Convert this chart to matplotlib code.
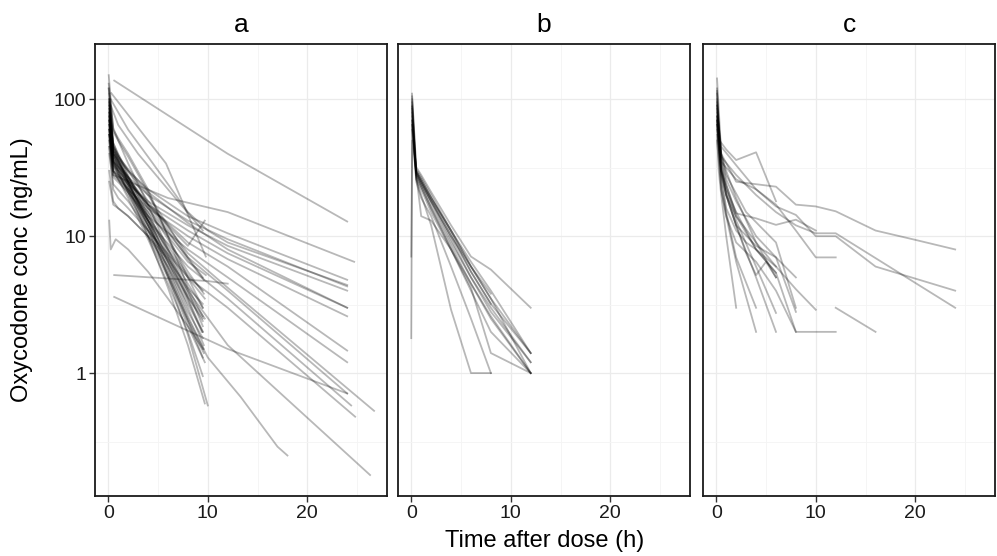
import matplotlib.pyplot as plt
from matplotlib.ticker import FixedLocator

plt.rcParams['font.family'] = ['Liberation Sans', 'DejaVu Sans']

panel_names = ['a', 'b', 'c']

# panel a: one list of times and concentrations per subject
a_time = [
    [0.1, 0.5, 1, 2, 4, 6, 8, 9.5], [0.1, 0.5, 1, 2, 4, 6, 8, 9.6],
    [0.05, 0.5, 1, 2, 4, 6, 8, 9.5], [0.1, 0.5, 1, 2, 4, 6, 8, 9.5],
    [0.1, 0.5, 1, 2, 4, 6, 8, 9.7], [0.05, 0.5, 1, 2, 4, 6, 8, 9.5],
    [0.1, 0.5, 1, 2, 4, 6, 8, 9.4], [0.1, 0.5, 1, 2, 4, 6, 8, 9.5],
    [0.1, 0.5, 1, 2, 4, 6, 8, 9.6], [0.1, 0.5, 1, 2, 4, 6, 8, 9.5],
    [0.1, 0.5, 1, 2, 4, 6, 8, 9.7], [0.1, 0.5, 1, 2, 4, 6, 8, 9.5],
    [0.1, 0.5, 1, 2, 4, 6, 8, 9.7], [0.1, 0.5, 1, 2, 4, 6, 8, 10],
    [0.1, 0.5, 1, 2, 4, 6, 8, 9.5], [0.1, 0.5, 1, 2, 4, 6, 8, 9.8],
    [0.05, 0.5, 1, 2, 4, 6, 8, 9.5], [0.1, 0.5, 1, 2, 4, 6, 8, 9.5],
    [0.1, 0.5, 1, 2, 4, 6, 8, 9.6], [0.1, 0.5, 1, 2, 4, 6, 8, 9.5],
    [0.1, 0.5, 1, 2, 4, 6, 8, 9.5], [0.05, 0.5, 1, 2, 4, 6, 8, 9.6],
    [0.1, 0.5, 1, 2, 4, 6, 8, 9.5], [0.1, 0.5, 1, 2, 4, 6, 8, 9.6],
    [0.1, 0.5, 1, 2, 4, 6, 8, 9.5], [0.1, 0.5, 1, 2, 4, 6, 8, 9.7],
    [0.1, 0.5, 1, 2, 4, 6, 8, 9.7],
    [0.6, 12, 24], [0.1, 0.5, 6, 12, 24.7],
    [0.1, 0.5, 2, 4, 8, 12, 24], [0.1, 0.5, 2, 4, 8, 12, 24],
    [0.1, 0.5, 2, 4, 8, 12, 24], [0.1, 0.5, 2, 4, 8, 12, 24],
    [0.1, 0.5, 2, 4, 8, 12, 24], [0.1, 0.5, 2, 4, 8, 12, 24],
    [0.1, 0.5, 2, 4, 8, 12, 24], [0.1, 0.5, 2, 4, 8, 12, 24],
    [0.1, 0.5, 2, 4, 8, 12, 24], [0.1, 0.5, 2, 4, 8, 12, 24.4],
    [0.1, 0.5, 2, 4, 8, 12, 24.8], [0.1, 0.5, 2, 4, 8, 12, 26.7],
    [0.1, 0.5, 2, 4, 8, 12, 26.3], [0.1, 0.5, 2, 4, 8, 10, 13.3, 17, 18],
    [0.6, 10, 12], [0.6, 7, 12, 24], [0.3, 5.8, 9.8],
    [0.1, 0.25, 0.75, 2, 4, 6, 8, 9.5],
    [0.25, 2, 4, 6, 8, 10, 12, 24], [0.25, 1, 3, 6, 9.5],
]
a_conc = [
    [95, 45, 38, 30, 20, 12, 7.0, 5.0], [70, 40, 34, 27, 16, 9.5, 5.5, 3.8],
    [120, 58, 50, 38, 21, 10, 5.0, 3.0], [60, 35, 30, 23, 14, 8.0, 4.5, 3.0],
    [80, 42, 36, 26, 15, 7.5, 3.8, 2.5], [150, 60, 52, 40, 22, 10, 4.2, 2.6],
    [55, 32, 28, 22, 12, 6.5, 3.4, 2.0], [75, 38, 33, 25, 13, 6.0, 2.8, 1.8],
    [110, 48, 40, 28, 14, 6.5, 3.0, 1.6], [65, 36, 30, 21, 10, 5.0, 2.4, 1.3],
    [90, 44, 36, 24, 11, 5.2, 2.2, 1.2], [50, 30, 26, 19, 9.5, 4.5, 2.0, 0.95],
    [85, 40, 33, 23, 10, 4.2, 1.6, 0.6], [100, 46, 38, 25, 12, 5.0, 1.9, 0.58],
    [70, 38, 31, 24, 14, 8.5, 5.2, 4.0], [60, 34, 29, 22, 15, 10, 6.5, 5.2],
    [130, 62, 50, 34, 17, 8.0, 4.0, 2.2], [45, 22, 19, 16, 11, 7.0, 3.6, 2.4],
    [80, 40, 34, 27, 17, 11, 6.8, 4.8], [100, 42, 35, 25, 13, 7.0, 3.5, 2.0],
    [30, 18, 16, 14, 10, 6.0, 3.2, 2.0], [120, 48, 39, 27, 13, 5.5, 2.4, 1.4],
    [25, 17, 16, 14, 10, 6.8, 4.2, 3.2], [95, 44, 36, 25, 12, 5.8, 2.6, 1.5],
    [65, 35, 29, 21, 12, 6.5, 3.6, 2.5], [55, 33, 28, 21, 13, 8.0, 5.0, 3.5],
    [75, 38, 32, 25, 17, 12, 8.5, 13],
    [137, 40, 12.8], [60, 28, 19, 15, 6.5],
    [80, 40, 30, 22, 14, 10.5, 4.8], [70, 35, 27, 20, 13, 9.5, 4.3],
    [55, 30, 24, 18, 12, 8.5, 4.0], [90, 42, 31, 21, 12.5, 8, 3.0],
    [65, 33, 25, 17, 11, 7.5, 3.0], [50, 28, 22, 16, 10, 6.8, 2.6],
    [75, 36, 26, 17, 9, 6, 1.46], [45, 27, 21, 14, 8, 5, 1.2],
    [85, 40, 27, 16, 7, 4, 0.71], [60, 30, 22, 13, 6, 3.5, 0.58],
    [40, 24, 18, 11, 5, 3, 0.48], [100, 45, 30, 18, 7.5, 4.2, 0.53],
    [70, 35, 24, 13, 4, 1.6, 0.18], [55, 30, 20, 11, 2.5, 1.3, 0.67, 0.29, 0.25],
    [5.2, 4.7, 4.5], [3.6, 2.2, 1.5, 0.71], [111, 34, 7.1],
    [13, 8, 9.5, 8, 5.5, 3.5, 2.2, 1.5],
    [100, 60, 38, 24, 15, 11, 9, 4.4], [90, 65, 40, 22, 11],
]

# panel b
b_time = [
    [0.08, 0.5, 1, 2, 4, 6, 8, 12], [0.08, 0.5, 1, 2, 4, 6, 8],
    [0.08, 0.5, 1, 2, 4, 6, 8, 12], [0.08, 0.5, 1, 2, 4, 6, 8, 12],
    [0.08, 0.5, 1, 2, 4, 6, 8, 12], [0.08, 0.5, 1, 2, 4, 6, 8, 12],
    [0.08, 0.5, 1, 2, 4, 6, 8, 12], [0.08, 0.5, 1, 2, 4, 6, 8],
    [0.08, 0.5, 1, 2, 4, 6, 8], [0, 0.1, 0.5, 1, 2, 4, 6, 8, 12],
    [0, 0.1, 0.5, 1, 2, 4, 6, 8, 12], [0.08, 0.5, 1, 2, 4, 6, 8, 12],
    [0.08, 0.5, 1, 2, 4, 6, 8], [0.08, 0.5, 1, 2, 4, 6, 8, 12],
    [0.08, 0.5, 1, 2, 4, 6, 8, 12],
]
b_conc = [
    [110, 32, 28, 21, 12, 7.1, 5.7, 3.0], [90, 30, 26, 19, 11, 6, 3.8],
    [85, 28, 24, 18, 10, 5.5, 3.2, 1.4], [75, 29, 25, 18, 9.5, 5, 3, 1.2],
    [100, 27, 23, 16, 8.5, 4.5, 2.6, 1.0], [60, 26, 22, 15, 8, 4.2, 1.4, 1.0],
    [70, 28, 23, 16, 8, 4, 2, 1.0], [95, 26, 20, 12, 2.9, 1.0, 1.0],
    [80, 25, 19, 14, 6, 2.5, 1.0], [1.8, 65, 30, 25, 18, 10, 6, 3.5, 1.4],
    [7.1, 50, 29, 24, 17, 9, 5, 2.8, 1.2], [105, 31, 27, 20, 11, 6.5, 4.0, 1.4],
    [88, 29, 25, 19, 10.5, 5.5, 3.2], [65, 30, 26, 19, 11, 6, 3.5, 1.0],
    [70, 28, 14, 13, 8, 4.5, 2.5, 1.0],
]

# panel c
c_time = [
    [0.08, 0.33, 1, 2, 4, 6], [0.08, 0.5, 2, 6, 8, 10, 12, 16, 20, 24],
    [0.08, 0.5, 2, 4, 6, 8, 10, 12, 16, 24], [0.08, 0.5, 2, 4, 6, 8, 10, 12, 24],
    [0.08, 0.5, 2, 4, 6, 8, 10, 12], [0.08, 0.5, 2, 4, 6, 8, 10],
    [12, 16], [0.08, 0.5, 1, 2, 4, 6, 8, 12],
    [0.08, 0.5, 1, 2, 4, 6, 8, 10], [0.08, 0.5, 1, 2, 4, 6, 8],
    [0.08, 0.25, 0.5, 1, 2], [0.08, 0.5, 1, 2, 4],
    [0.08, 0.5, 1, 2, 4], [0.08, 0.5, 1, 2, 4, 6],
    [0.08, 0.5, 1, 2, 4, 6], [0.08, 0.5, 1, 2, 3, 4, 5, 6],
    [0.08, 0.5, 1, 2, 4, 6, 8], [0.08, 0.5, 1, 2, 4, 6],
    [0.08, 0.5, 1, 2, 3, 4, 6], [0.08, 0.5, 1, 2, 4, 6, 8],
    [0.08, 0.25, 0.5, 1, 2, 4, 6], [0.08, 0.5, 1, 3, 6, 8],
]
c_conc = [
    [115, 50, 43, 36, 41, 18], [90, 40, 25, 23, 17, 16.5, 15.2, 11, 9.4, 8.0],
    [80, 45, 33, 22, 16.5, 14.3, 10, 10, 6.0, 4.0], [70, 38, 28, 20, 15, 12, 10.5, 10.5, 3.0],
    [100, 35, 26, 22, 17, 11, 7.0, 7.0], [65, 30, 14.7, 13.5, 12.1, 13.2, 11.0],
    [3.0, 2.0], [75, 30, 22, 15, 8, 5.4, 2.0, 2.0],
    [85, 35, 24, 14, 8, 6.0, 4.1, 2.9], [60, 28, 20, 12, 8.5, 7.0, 5.0],
    [55, 30, 20, 10, 3.0], [70, 25, 15, 7, 3.0],
    [50, 22, 14, 6.5, 2.0], [90, 35, 20, 12, 5, 2.0],
    [75, 32, 22, 13, 6, 2.75], [65, 30, 20, 12, 7.5, 5.2, 6.5, 5.0],
    [110, 38, 26, 18, 10, 7, 2.8], [142, 40, 30, 19, 9, 6],
    [95, 28, 16, 11, 9, 8, 5.4], [70, 22, 14, 9, 6.5, 4, 2.0],
    [120, 50, 30, 20, 14, 9, 5], [75, 40, 28, 15, 9, 3.0],
]

all_times = [a_time, b_time, c_time]
all_conc = [a_conc, b_conc, c_conc]

W, H = 997, 556
fig = plt.figure(figsize=(W / 100, H / 100), dpi=100)

lefts = [95, 398, 703]
for i, name in enumerate(panel_names):
    ax = fig.add_axes([lefts[i] / W, 60 / H, 292 / W, 452 / H])
    for t, c in zip(all_times[i], all_conc[i]):
        ax.plot(t, c, color='black', alpha=0.28, lw=1.3, solid_joinstyle='round')
    ax.set_yscale('log')
    ax.set_ylim(10 ** -0.898, 10 ** 2.404)
    ax.set_xlim(-1.33, 28.0)
    ax.xaxis.set_major_locator(FixedLocator([0, 10, 20]))
    ax.xaxis.set_minor_locator(FixedLocator([5, 15, 25]))
    ax.yaxis.set_major_locator(FixedLocator([1, 10, 100]))
    ax.yaxis.set_minor_locator(FixedLocator([10 ** -0.5, 10 ** 0.5, 10 ** 1.5]))
    ax.set_yticklabels(['1', '10', '100'])
    ax.set_axisbelow(True)
    ax.grid(which='major', color='#EBEBEB', lw=0.9)
    ax.grid(which='minor', color='#F4F4F4', lw=0.6)
    ax.tick_params(which='minor', length=0)
    ax.tick_params(which='major', length=4, width=1.0, color='#333333',
                   labelsize=14, labelcolor='#1a1a1a', pad=2.5)
    if i > 0:
        ax.tick_params(axis='y', left=False, labelleft=False)
    for sp in ax.spines.values():
        sp.set_color('#1a1a1a')
        sp.set_linewidth(1.3)
    ax.set_title(name, fontsize=19, pad=9)

fig.text(545 / W, 1 - 541 / H, 'Time after dose (h)', ha='center', va='center', fontsize=17)
fig.text(22 / W, 1 - 270 / H, 'Oxycodone conc (ng/mL)', ha='center', va='center',
         rotation=90, fontsize=17)

fig.savefig('out.png', dpi=100)
